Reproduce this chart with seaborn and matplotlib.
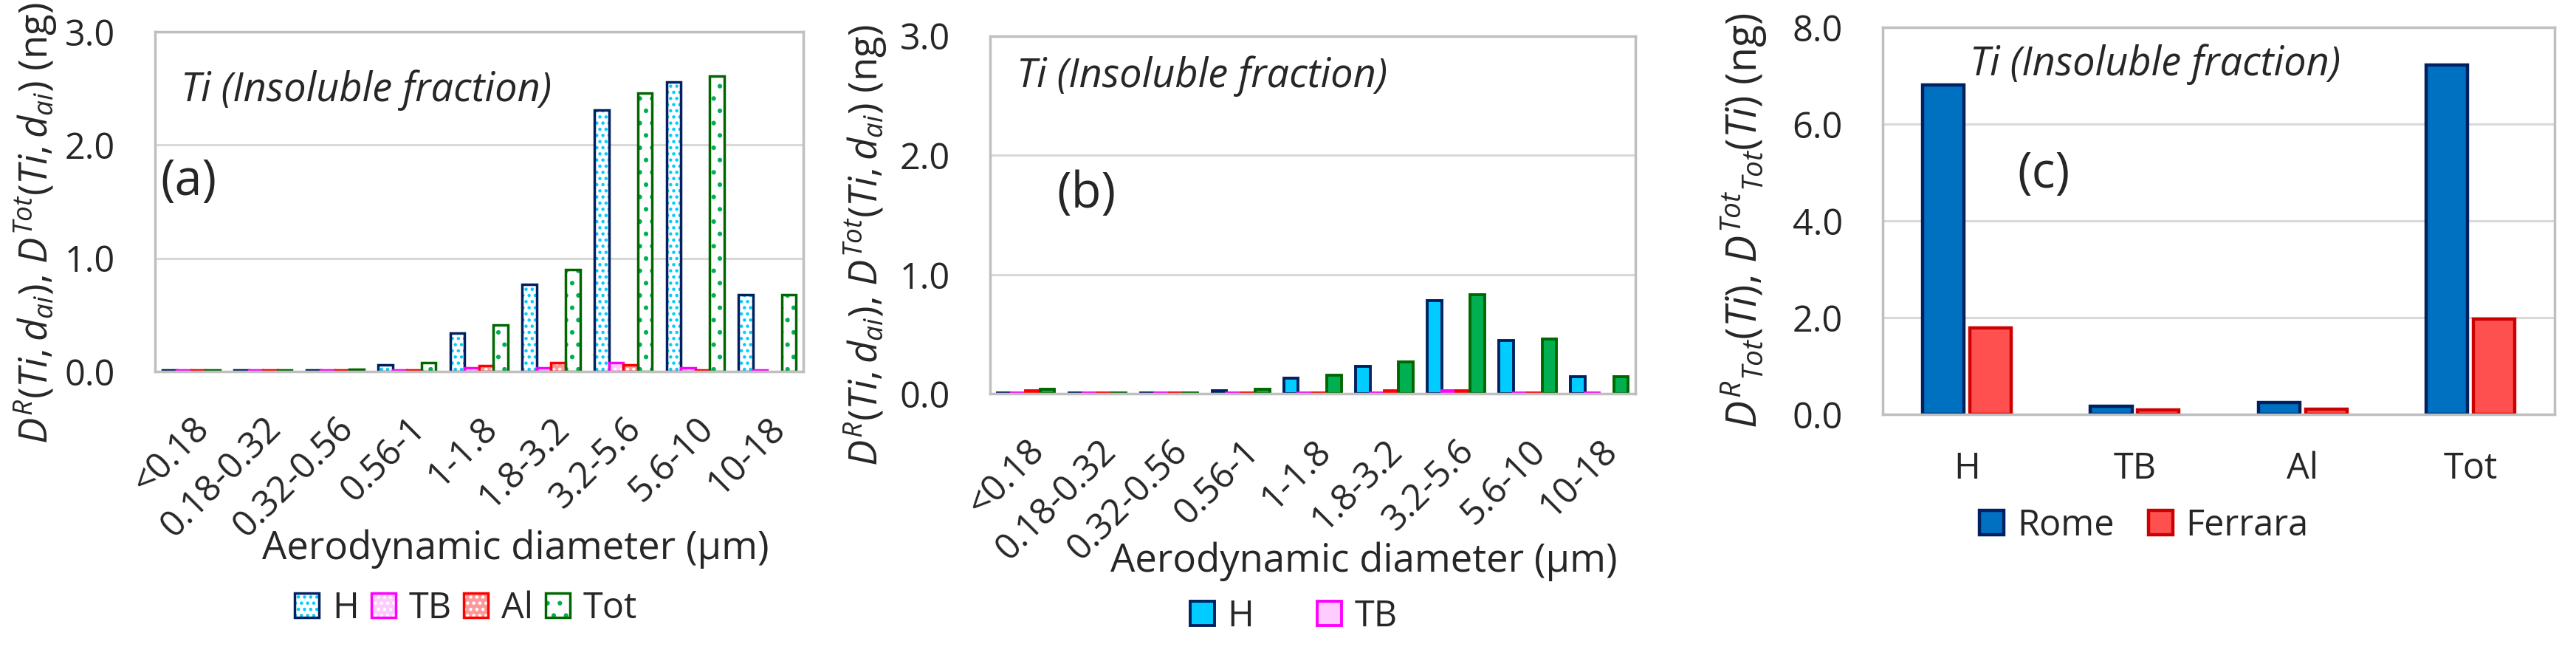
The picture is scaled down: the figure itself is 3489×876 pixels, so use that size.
import numpy as np
import pandas as pd
import matplotlib
matplotlib.use("Agg")
import matplotlib.pyplot as plt
import seaborn as sns
from matplotlib.patches import Rectangle, Patch
from matplotlib.legend_handler import HandlerTuple
from matplotlib.ticker import FormatStrFormatter

# ---------------- data ----------------
sizes = ["<0.18", "0.18-0.32", "0.32-0.56", "0.56-1", "1-1.8", "1.8-3.2", "3.2-5.6", "5.6-10", "10-18"]
regions = ["H", "TB", "Al", "Tot"]

rome_H = [0.01, 0.01, 0.01, 0.06, 0.34, 0.77, 2.31, 2.56, 0.68]
rome_TB = [0.01, 0.01, 0.01, 0.01, 0.03, 0.03, 0.08, 0.03, 0.01]
rome_Al = [0.01, 0.01, 0.01, 0.01, 0.05, 0.08, 0.06, 0.015, 0.0]
rome_Tot = [0.01, 0.01, 0.02, 0.08, 0.41, 0.90, 2.46, 2.61, 0.68]

ferrara_H = [0.01, 0.01, 0.01, 0.025, 0.13, 0.235, 0.78, 0.45, 0.145]
ferrara_TB = [0.01, 0.01, 0.01, 0.01, 0.01, 0.01, 0.025, 0.01, 0.01]
ferrara_Al = [0.025, 0.01, 0.01, 0.01, 0.01, 0.025, 0.025, 0.01, 0.0]
ferrara_Tot = [0.04, 0.01, 0.01, 0.04, 0.155, 0.27, 0.83, 0.46, 0.145]

cities = ["Rome", "Ferrara"]
tot_rome = [6.82, 0.17, 0.24, 7.23]
tot_ferrara = [1.78, 0.085, 0.11, 1.97]

# ---------------- style ----------------
sns.set_theme(style="white")
FONT = "Open Sans"
plt.rcParams["font.family"] = [FONT, "DejaVu Sans"]
plt.rcParams["mathtext.fontset"] = "custom"
plt.rcParams["mathtext.rm"] = FONT
plt.rcParams["mathtext.it"] = FONT + ":italic"
plt.rcParams["mathtext.bf"] = FONT + ":bold"
plt.rcParams["hatch.linewidth"] = 2.0

TICK_FS = 35
LAB_FS = 38
LEG_FS = 35
YLAB_FS_AB = 38
YLAB_FS_C = 40
GRID_C = "#D9D9D9"
SPINE_C = "#BFBFBF"

fig = plt.figure(figsize=(34.89, 8.76), dpi=100)
axa = fig.add_axes([0.0602, 0.4258, 0.2516, 0.525])
axb = fig.add_axes([0.3843, 0.391, 0.2505, 0.5535])
axc = fig.add_axes([0.7309, 0.3596, 0.2608, 0.5977])


def long_df(cols):
    return pd.DataFrame({
        "size": sizes * len(cols),
        "region": np.repeat(regions, len(sizes)),
        "value": sum(cols, []),
    })


def base_style(ax, ymax, step):
    ax.set_ylim(0, ymax)
    ax.set_yticks(np.arange(0, ymax + 0.001, step))
    ax.yaxis.set_major_formatter(FormatStrFormatter("%.1f"))
    ax.grid(axis="y", color=GRID_C, lw=2.2)
    ax.set_axisbelow(True)
    for s in ax.spines.values():
        s.set_visible(True)
        s.set_color(SPINE_C)
        s.set_linewidth(2.5)
    ax.tick_params(axis="y", length=0, pad=39, labelsize=TICK_FS)
    ax.set_xlabel("")
    ax.set_ylabel("")


# ---------------- panel (a) ----------------
dfa = long_df([rome_H, rome_TB, rome_Al, rome_Tot])
sns.barplot(data=dfa, x="size", y="value", hue="region", order=sizes, hue_order=regions,
            ax=axa, width=0.8, legend=False, saturation=1, palette=["white"] * 4, errorbar=None)
hatch_styles = {
    "H": dict(fc="white", hc="#00CCFF", hatch="..", oc="#002060"),
    "TB": dict(fc="#FFCCFF", hc="white", hatch="..", oc="#FF00FF"),
    "Al": dict(fc="#FF9999", hc="white", hatch="..", oc="#FF0000"),
    "Tot": dict(fc="white", hc="#00B050", hatch=".", oc="#006600"),
}
for reg, cont in zip(regions, axa.containers):
    st = hatch_styles[reg]
    for p in cont.patches:
        if p.get_height() <= 0:
            p.set_visible(False)
            continue
        p.set_facecolor(st["fc"])
        p.set_edgecolor(st["hc"])
        p.set_hatch(st["hatch"])
        p.set_linewidth(0)
        axa.add_patch(Rectangle(p.get_xy(), p.get_width(), p.get_height(), fill=False,
                                edgecolor=st["oc"], lw=2.5, zorder=p.get_zorder() + 0.1))
base_style(axa, 3.0, 1.0)

# ---------------- panel (b) ----------------
dfb = long_df([ferrara_H, ferrara_TB, ferrara_Al, ferrara_Tot])
solid = {
    "H": ("#00CCFF", "#002060"),
    "TB": ("#FFCCFF", "#FF00FF"),
    "Al": ("#FF3333", "#FF0000"),
    "Tot": ("#00B050", "#006600"),
}
sns.barplot(data=dfb, x="size", y="value", hue="region", order=sizes, hue_order=regions,
            ax=axb, width=0.8, legend=False, saturation=1,
            palette=[solid[r][0] for r in regions], errorbar=None)
for reg, cont in zip(regions, axb.containers):
    for p in cont.patches:
        if p.get_height() <= 0:
            p.set_visible(False)
            continue
        p.set_edgecolor(solid[reg][1])
        p.set_linewidth(2.8)
base_style(axb, 3.0, 1.0)

for ax in (axa, axb):
    ax.set_xticks(range(len(sizes)))
    ax.set_xticklabels(sizes, rotation=45, ha="right", va="top", rotation_mode="anchor")
    ax.tick_params(axis="x", length=0, pad=38, labelsize=TICK_FS)
    ax.set_xlim(-0.5, len(sizes) - 0.5)

# ---------------- panel (c) ----------------
dfc = pd.DataFrame({
    "region": regions * 2,
    "city": np.repeat(cities, len(regions)),
    "value": tot_rome + tot_ferrara,
})
city_col = {"Rome": ("#0070C0", "#002060"), "Ferrara": ("#FF5050", "#CC0000")}
sns.barplot(data=dfc, x="region", y="value", hue="city", order=regions, hue_order=cities,
            ax=axc, width=0.56, gap=0.12, legend=False, saturation=1,
            palette=[city_col[c][0] for c in cities], errorbar=None)
for c, cont in zip(cities, axc.containers):
    for p in cont.patches:
        p.set_edgecolor(city_col[c][1])
        p.set_linewidth(3.2)
base_style(axc, 8.0, 2.0)
axc.tick_params(axis="x", length=0, pad=36, labelsize=TICK_FS)

# ---------------- labels / annotations ----------------
ylab_ab = r"$D^{R}(Ti,d_{ai})$, $D^{Tot}(Ti,d_{ai})$ (ng)"
ylab_c = r"$D^{R}{}_{Tot}(Ti)$, $D^{Tot}{}_{Tot}(Ti)$ (ng)"
for ax, lab, xy, fs in ((axa, ylab_ab, (-0.184, 0.437), YLAB_FS_AB),
                        (axb, ylab_ab, (-0.193, 0.415), YLAB_FS_AB),
                        (axc, ylab_c, (-0.207, 0.5), YLAB_FS_C)):
    ax.set_ylabel(lab, fontsize=fs)
    ax.yaxis.set_label_coords(*xy)
    ax.yaxis.label.set_va("center")

for ax, xy in ((axa, (0.556, -0.522)), (axb, (0.579, -0.467))):
    ax.set_xlabel("Aerodynamic diameter (µm)", fontsize=LAB_FS)
    ax.xaxis.set_label_coords(*xy)
    ax.xaxis.label.set_va("center")

TITLE_FS = 39
PANEL_FS = 48
axa.text(0.04, 0.828, "Ti (Insoluble fraction)", transform=axa.transAxes, fontsize=TITLE_FS,
         style="italic", va="center", ha="left")
axa.text(0.008, 0.559, "(a)", transform=axa.transAxes, fontsize=PANEL_FS, va="center", ha="left")
axb.text(0.041, 0.888, "Ti (Insoluble fraction)", transform=axb.transAxes, fontsize=TITLE_FS,
         style="italic", va="center", ha="left")
axb.text(0.104, 0.558, "(b)", transform=axb.transAxes, fontsize=PANEL_FS, va="center", ha="left")
axc.text(0.13, 0.905, "Ti (Insoluble fraction)", transform=axc.transAxes, fontsize=TITLE_FS,
         style="italic", va="center", ha="left")
axc.text(0.2, 0.62, "(c)", transform=axc.transAxes, fontsize=PANEL_FS, va="center", ha="left")

# ---------------- legends ----------------
W, H = 3489.0, 876.0
leg_kw = dict(frameon=False, fontsize=LEG_FS, handlelength=0.68, handleheight=0.68,
              handletextpad=0.36, borderpad=0, loc="center")

handles_a = []
for reg in regions:
    st = hatch_styles[reg]
    handles_a.append((Patch(facecolor=st["fc"], edgecolor=st["hc"], hatch=st["hatch"], lw=0),
                      Patch(fill=False, edgecolor=st["oc"], lw=2.5)))
fig.legend(handles_a, regions, ncol=4, bbox_to_anchor=(631 / W, 1 - 824 / H),
           handler_map={tuple: HandlerTuple(ndivide=1)}, columnspacing=0.35, **leg_kw)

handles_b = [Patch(facecolor=solid[r][0], edgecolor=solid[r][1], lw=2.8) for r in ["H", "TB"]]
fig.legend(handles_b, ["H", "TB"], ncol=2, bbox_to_anchor=(1752 / W, 1 - 835 / H),
           columnspacing=1.76, **leg_kw)

handles_c = [Patch(facecolor=city_col[c][0], edgecolor=city_col[c][1], lw=3.2) for c in cities]
fig.legend(handles_c, cities, ncol=2, bbox_to_anchor=(2904 / W, 1 - 712 / H),
           columnspacing=0.96, **leg_kw)

fig.savefig("out.png", dpi=100, facecolor="white")
